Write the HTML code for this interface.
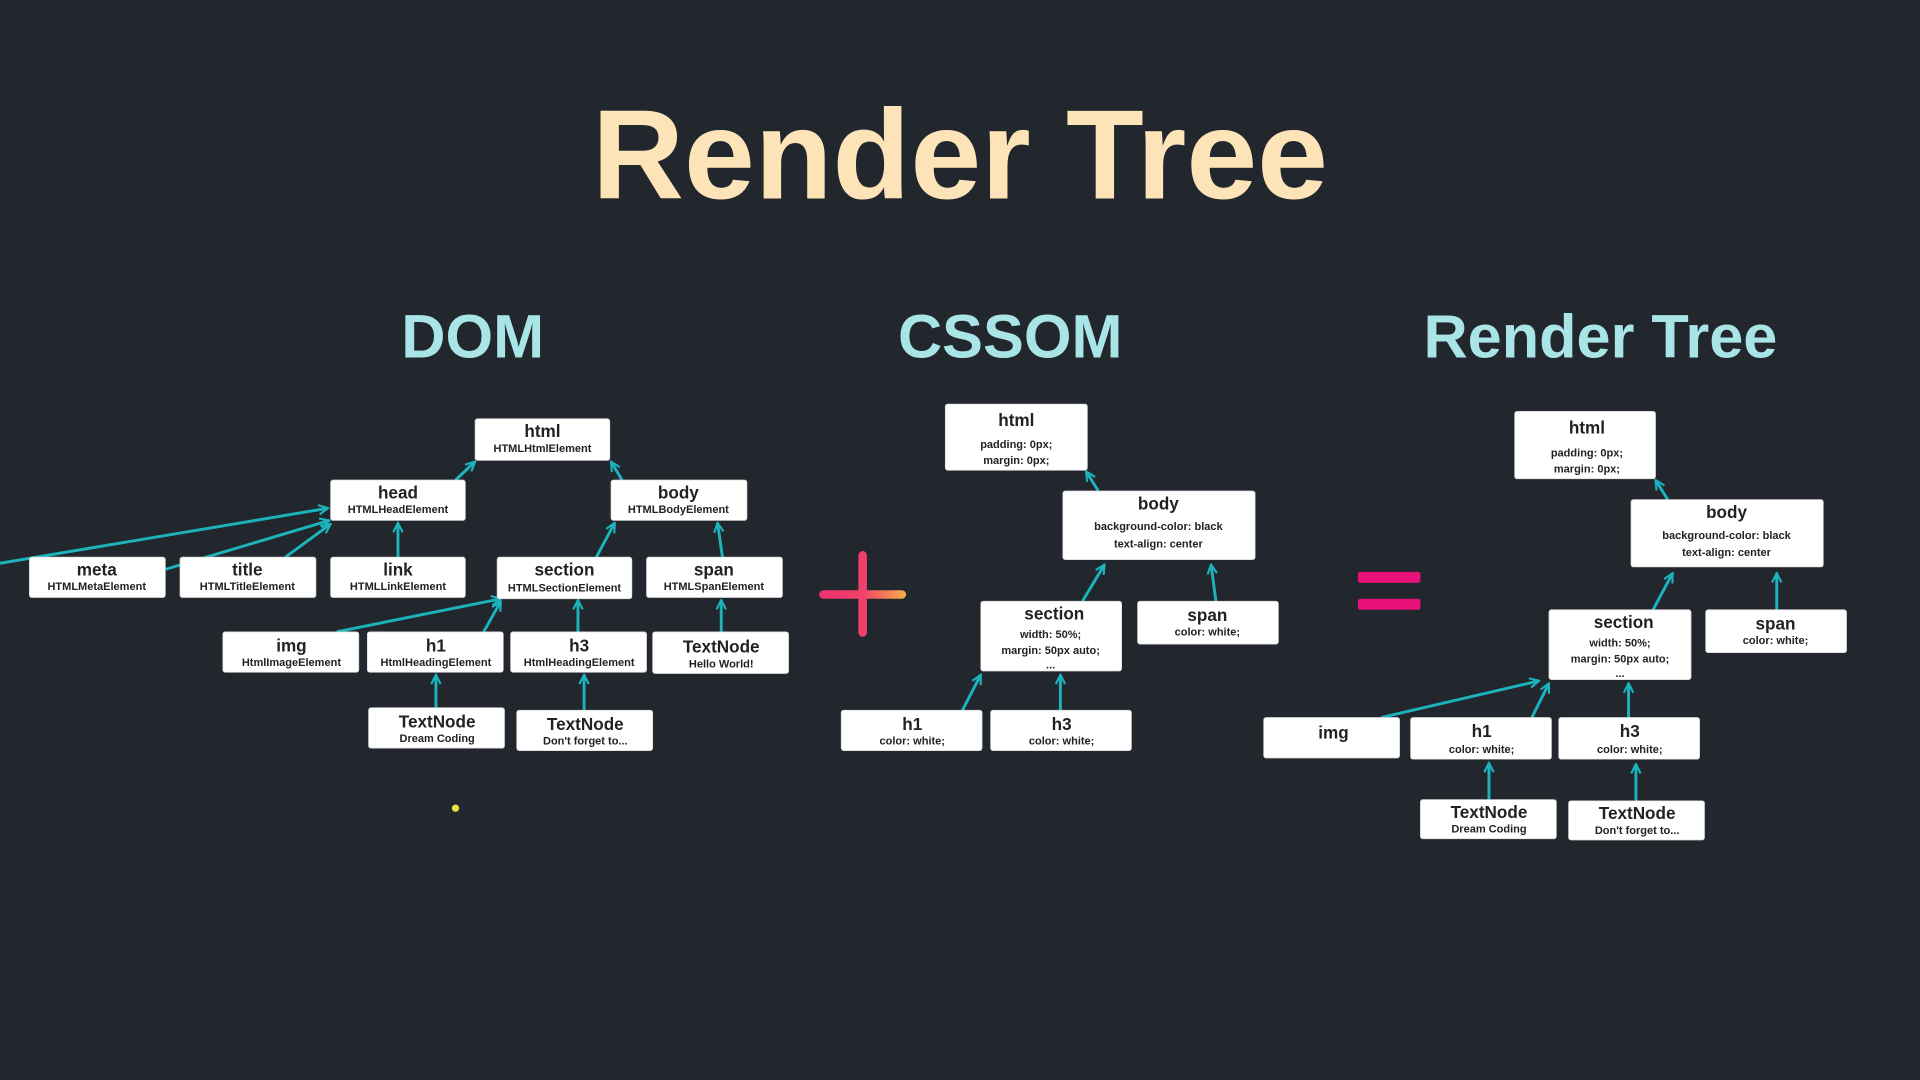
<!DOCTYPE html>
<html><head><meta charset="utf-8"><style>
html,body{margin:0;padding:0;background:#22262d;width:1920px;height:1080px;overflow:hidden}
svg{display:block}
.b{fill:#fff;stroke:#d8d8d8;stroke-width:0.6}
.t{font-family:"Liberation Sans",sans-serif;font-weight:bold;fill:#222;text-anchor:middle}
.h{font-size:14px}.s{font-size:9px}
.a{stroke:#1cb3bd;stroke-width:2.4;fill:none;marker-end:url(#m)}
</style></head><body>
<svg width="1920" height="1080" viewBox="0 0 1568 882" preserveAspectRatio="none">
<defs>
<marker id="m" viewBox="0 0 10 10" refX="9" refY="5" markerWidth="4" markerHeight="4" orient="auto" markerUnits="strokeWidth">
<polyline points="1,1 9,5 1,9" fill="none" stroke="#1cb3bd" stroke-width="1.8"/></marker>
<linearGradient id="g" x1="0" x2="1"><stop offset="0" stop-color="#f0306e"/><stop offset="0.5" stop-color="#f0426a"/><stop offset="1" stop-color="#f5b048"/></linearGradient>
</defs>
<rect width="1568" height="882" fill="#22262d"/>
<text x="784" y="162" font-family="Liberation Sans,sans-serif" font-weight="bold" font-size="104" fill="#fde4b8" text-anchor="middle">Render Tree</text>
<g font-family="Liberation Sans,sans-serif" font-weight="bold" font-size="50" fill="#a9e4e6" text-anchor="middle">
<text x="386" y="292">DOM</text><text x="825" y="292">CSSOM</text><text x="1307" y="292">Render Tree</text></g>

<!-- plus & equals -->
<rect x="701" y="450" width="7" height="70" rx="3.5" fill="#ef3f6c"/>
<rect x="669" y="482" width="71" height="7" rx="3.5" fill="url(#g)"/>
<rect x="1109" y="467" width="51" height="9" rx="2" fill="#e8127a"/>
<rect x="1109" y="489" width="51" height="9" rx="2" fill="#e8127a"/>
<circle cx="372" cy="660" r="3" fill="#e8e040"/>

<!-- arrows DOM -->
<line class="a" x1="372" y1="392" x2="388" y2="377"/>
<line class="a" x1="508" y1="392" x2="499" y2="377"/>
<line class="a" x1="0" y1="460" x2="268" y2="415"/>
<line class="a" x1="135" y1="465" x2="269" y2="425"/>
<line class="a" x1="233" y1="455" x2="270" y2="428"/>
<line class="a" x1="325" y1="455" x2="325" y2="427"/>
<line class="a" x1="487" y1="455" x2="502" y2="427"/>
<line class="a" x1="590" y1="455" x2="586" y2="427"/>
<line class="a" x1="275" y1="516" x2="409" y2="489"/>
<line class="a" x1="395" y1="516" x2="409" y2="491"/>
<line class="a" x1="472" y1="516" x2="472" y2="490"/>
<line class="a" x1="589" y1="516" x2="589" y2="490"/>
<line class="a" x1="356" y1="578" x2="356" y2="551"/>
<line class="a" x1="477" y1="580" x2="477" y2="551"/>
<!-- arrows CSSOM -->
<line class="a" x1="897" y1="401" x2="887" y2="385"/>
<line class="a" x1="884" y1="491" x2="902" y2="461"/>
<line class="a" x1="993" y1="491" x2="989" y2="461"/>
<line class="a" x1="786" y1="580" x2="801" y2="551"/>
<line class="a" x1="866" y1="580" x2="866" y2="551"/>
<!-- arrows Render -->
<line class="a" x1="1362" y1="408" x2="1352" y2="392"/>
<line class="a" x1="1350" y1="498" x2="1366" y2="468"/>
<line class="a" x1="1451" y1="498" x2="1451" y2="468"/>
<line class="a" x1="1128" y1="586" x2="1257" y2="556"/>
<line class="a" x1="1251" y1="586" x2="1265" y2="558"/>
<line class="a" x1="1330" y1="586" x2="1330" y2="558"/>
<line class="a" x1="1216" y1="653" x2="1216" y2="623"/>
<line class="a" x1="1336" y1="654" x2="1336" y2="624"/>

<!-- DOM boxes -->
<g>
<rect class="b" x="388" y="342" width="110" height="34" rx="2"/><text class="t h" x="443" y="357">html</text><text class="t s" x="443" y="369">HTMLHtmlElement</text>
<rect class="b" x="270" y="392" width="110" height="33" rx="2"/><text class="t h" x="325" y="407">head</text><text class="t s" x="325" y="419">HTMLHeadElement</text>
<rect class="b" x="499" y="392" width="111" height="33" rx="2"/><text class="t h" x="554" y="407">body</text><text class="t s" x="554" y="419">HTMLBodyElement</text>
<rect class="b" x="24" y="455" width="111" height="33" rx="2"/><text class="t h" x="79" y="470">meta</text><text class="t s" x="79" y="482">HTMLMetaElement</text>
<rect class="b" x="147" y="455" width="111" height="33" rx="2"/><text class="t h" x="202" y="470">title</text><text class="t s" x="202" y="482">HTMLTitleElement</text>
<rect class="b" x="270" y="455" width="110" height="33" rx="2"/><text class="t h" x="325" y="470">link</text><text class="t s" x="325" y="482">HTMLLinkElement</text>
<rect class="b" x="406" y="455" width="110" height="34" rx="2"/><text class="t h" x="461" y="470">section</text><text class="t s" x="461" y="483">HTMLSectionElement</text>
<rect class="b" x="528" y="455" width="111" height="33" rx="2"/><text class="t h" x="583" y="470">span</text><text class="t s" x="583" y="482">HTMLSpanElement</text>
<rect class="b" x="182" y="516" width="111" height="33" rx="2"/><text class="t h" x="238" y="532">img</text><text class="t s" x="238" y="544">HtmlImageElement</text>
<rect class="b" x="300" y="516" width="111" height="33" rx="2"/><text class="t h" x="356" y="532">h1</text><text class="t s" x="356" y="544">HtmlHeadingElement</text>
<rect class="b" x="417" y="516" width="111" height="33" rx="2"/><text class="t h" x="473" y="532">h3</text><text class="t s" x="473" y="544">HtmlHeadingElement</text>
<rect class="b" x="533" y="516" width="111" height="34" rx="2"/><text class="t h" x="589" y="533">TextNode</text><text class="t s" x="589" y="545">Hello World!</text>
<rect class="b" x="301" y="578" width="111" height="33" rx="2"/><text class="t h" x="357" y="594">TextNode</text><text class="t s" x="357" y="606">Dream Coding</text>
<rect class="b" x="422" y="580" width="111" height="33" rx="2"/><text class="t h" x="478" y="596">TextNode</text><text class="t s" x="478" y="608">Don't forget to...</text>
</g>
<!-- CSSOM boxes -->
<g>
<rect class="b" x="772" y="330" width="116" height="54" rx="2"/><text class="t h" x="830" y="348">html</text><text class="t s" x="830" y="366">padding: 0px;</text><text class="t s" x="830" y="379">margin: 0px;</text>
<rect class="b" x="868" y="401" width="157" height="56" rx="2"/><text class="t h" x="946" y="416">body</text><text class="t s" x="946" y="433">background-color: black</text><text class="t s" x="946" y="447">text-align: center</text>
<rect class="b" x="801" y="491" width="115" height="57" rx="2"/><text class="t h" x="861" y="506">section</text><text class="t s" x="858" y="521">width: 50%;</text><text class="t s" x="858" y="534">margin: 50px auto;</text><text class="t s" x="858" y="546">...</text>
<rect class="b" x="929" y="491" width="115" height="35" rx="2"/><text class="t h" x="986" y="507">span</text><text class="t s" x="986" y="519">color: white;</text>
<rect class="b" x="687" y="580" width="115" height="33" rx="2"/><text class="t h" x="745" y="596">h1</text><text class="t s" x="745" y="608">color: white;</text>
<rect class="b" x="809" y="580" width="115" height="33" rx="2"/><text class="t h" x="867" y="596">h3</text><text class="t s" x="867" y="608">color: white;</text>
</g>
<!-- Render boxes -->
<g>
<rect class="b" x="1237" y="336" width="115" height="55" rx="2"/><text class="t h" x="1296" y="354">html</text><text class="t s" x="1296" y="373">padding: 0px;</text><text class="t s" x="1296" y="386">margin: 0px;</text>
<rect class="b" x="1332" y="408" width="157" height="55" rx="2"/><text class="t h" x="1410" y="423">body</text><text class="t s" x="1410" y="440">background-color: black</text><text class="t s" x="1410" y="454">text-align: center</text>
<rect class="b" x="1265" y="498" width="116" height="57" rx="2"/><text class="t h" x="1326" y="513">section</text><text class="t s" x="1323" y="528">width: 50%;</text><text class="t s" x="1323" y="541">margin: 50px auto;</text><text class="t s" x="1323" y="553">...</text>
<rect class="b" x="1393" y="498" width="115" height="35" rx="2"/><text class="t h" x="1450" y="514">span</text><text class="t s" x="1450" y="526">color: white;</text>
<rect class="b" x="1032" y="586" width="111" height="33" rx="2"/><text class="t h" x="1089" y="603">img</text>
<rect class="b" x="1152" y="586" width="115" height="34" rx="2"/><text class="t h" x="1210" y="602">h1</text><text class="t s" x="1210" y="615">color: white;</text>
<rect class="b" x="1273" y="586" width="115" height="34" rx="2"/><text class="t h" x="1331" y="602">h3</text><text class="t s" x="1331" y="615">color: white;</text>
<rect class="b" x="1160" y="653" width="111" height="32" rx="2"/><text class="t h" x="1216" y="668">TextNode</text><text class="t s" x="1216" y="680">Dream Coding</text>
<rect class="b" x="1281" y="654" width="111" height="32" rx="2"/><text class="t h" x="1337" y="669">TextNode</text><text class="t s" x="1337" y="681">Don't forget to...</text>
</g>
</svg>
</body></html>
